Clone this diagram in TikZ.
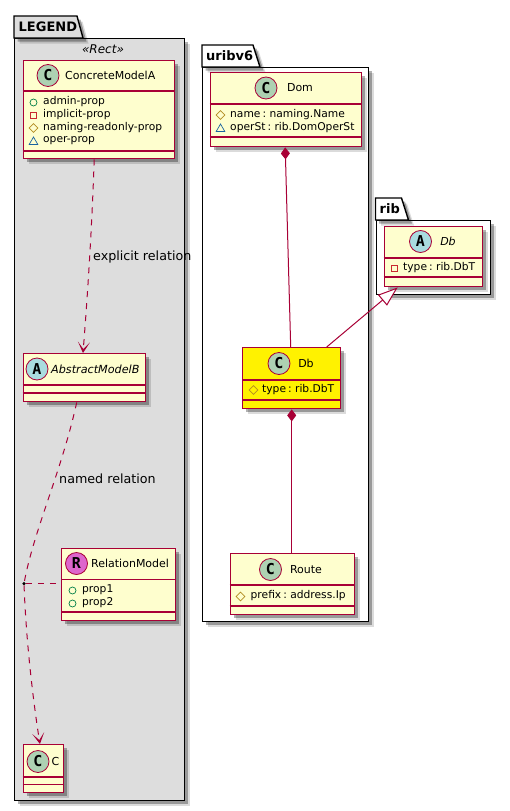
\documentclass[tikz,border=0pt]{standalone}
\usepackage{fontspec}
\setmainfont{DejaVu Sans}
\setmonofont{DejaVu Sans Mono}
\usetikzlibrary{shapes.geometric, arrows.meta, shadows}
\definecolor{umlline}{HTML}{A80036}
\definecolor{umlfill}{HTML}{FEFECE}
\definecolor{legendfill}{HTML}{DDDDDD}
\definecolor{circC}{HTML}{ADD1B2}
\definecolor{circA}{HTML}{A9DCDF}
\definecolor{circR}{HTML}{DD66CC}
\definecolor{markpub}{HTML}{038048}
\definecolor{markpriv}{HTML}{C82930}
\definecolor{markprot}{HTML}{B38D22}
\definecolor{markpack}{HTML}{1963A0}
\newcommand{\attrfont}{\fontsize{10.7}{12}\selectfont\spaceskip 0.2em\relax}

\begin{document}
\begin{tikzpicture}[
    x=1pt, y=-1pt,
    softshadow/.style={
        drop shadow={shadow xshift=5.5pt, shadow yshift=-5.5pt, fill=black, opacity=0.14},
        drop shadow={shadow xshift=3.5pt, shadow yshift=-3.5pt, fill=black, opacity=0.3}},
    pkgbox/.style={draw=black, line width=1.4pt, anchor=north west, inner sep=0pt, softshadow},
    pkgtab/.style={draw=black, line width=1.4pt, softshadow},
    pkgname/.style={font=\fontsize{13}{14}\selectfont\bfseries, anchor=west, inner sep=0pt},
    classbox/.style={draw=umlline, line width=1.4pt, fill=umlfill, anchor=north west, inner sep=0pt, softshadow},
    classdiv/.style={draw=umlline, line width=1.2pt},
    classname/.style={font=\fontsize{11}{14}\selectfont, inner sep=0pt},
    attr/.style={font=\attrfont, anchor=west, inner sep=0pt},
    badge/.style={circle, draw=umlline, line width=0.8pt, minimum size=22pt, inner sep=0pt, font=\ttfamily\bfseries\fontsize{15}{15}\selectfont},
    markpublic/.style={circle, draw=markpub, line width=0.7pt, minimum size=7pt, inner sep=0pt},
    markprivate/.style={rectangle, draw=markpriv, line width=0.7pt, minimum size=6.5pt, inner sep=0pt},
    markprotected/.style={diamond, draw=markprot, line width=0.7pt, minimum size=9pt, inner sep=0pt},
    markpackage/.style={regular polygon, regular polygon sides=3, draw=markpack, line width=0.7pt, minimum size=10pt, inner sep=0pt},
    relation/.style={draw=umlline, line width=1pt},
    dashrel/.style={relation, dash pattern=on 6pt off 6pt},
    openhead/.style={-{Stealth[length=11pt, width=12pt, inset=7pt]}},
    relname/.style={font=\fontsize{12.7}{14}\selectfont, anchor=west, inner sep=0pt}
]
\useasboundingbox (0,0) rectangle (510,811);

% Packages
\node[pkgbox, fill=legendfill, minimum width=170pt, minimum height=762pt] (legend) at (14,38) {};
\draw[pkgtab, fill=legendfill] (legend.north west) -- ++(0,-22) -- ++(63,0) -- ++(6,22) -- cycle;
\node[pkgname] (legendname) at (18.5,27) {LEGEND};
\node[font=\fontsize{12}{13}\selectfont\itshape, inner sep=0pt] (rectname) at (103,49.5) {«Rect»};

\node[pkgbox, fill=white, minimum width=166pt, minimum height=554pt] (uribv) at (202,67) {};
\draw[pkgtab, fill=white] (uribv.north west) -- ++(0,-22) -- ++(51,0) -- ++(7,22) -- cycle;
\node[pkgname] (uribvname) at (206,56) {uribv6};

\node[pkgbox, fill=white, minimum width=114pt, minimum height=74pt] (rib) at (375.5,220) {};
\draw[pkgtab, fill=white] (rib.north west) -- ++(0,-22) -- ++(26,0) -- ++(7,22) -- cycle;
\node[pkgname] (ribname) at (379.5,209) {rib};

% Legend classes
\node[classbox, minimum width=151pt, minimum height=98.5pt] (concreteA) at (22.5,59.5) {};
\draw[classdiv] (concreteA.west |- 0,91) -- (concreteA.east |- 0,91);
\draw[classdiv] (concreteA.west |- 0,151) -- (concreteA.east |- 0,151);
\node[badge, fill=circC] (concreteAbadge) at (48,75.5) {C};
\node[classname, anchor=west] (concreteAname) at (65,75.5) {ConcreteModelA};
\node[markpublic] (m1) at (33.5,102.5) {};
\node[attr] (a1) at (43,102) {admin-prop};
\node[markprivate] (m2) at (33.5,115.5) {};
\node[attr] (a2) at (43,115) {implicit-prop};
\node[markprotected] (m3) at (33.5,128) {};
\node[attr] (a3) at (43,128) {naming-readonly-prop};
\node[markpackage] (m4) at (33.5,142) {};
\node[attr] (a4) at (43,141) {oper-prop};

\node[classbox, minimum width=122pt, minimum height=48pt] (abstractB) at (22.5,353) {};
\draw[classdiv] (abstractB.west |- 0,385) -- (abstractB.east |- 0,385);
\draw[classdiv] (abstractB.west |- 0,393) -- (abstractB.east |- 0,393);
\node[badge, fill=circA] (abstractBbadge) at (37,369) {A};
\node[classname, anchor=west, font=\fontsize{11.2}{14}\selectfont\itshape] (abstractBname) at (51,369) {AbstractModelB};

\node[classbox, minimum width=114pt, minimum height=72pt] (relmodel) at (61,548) {};
\draw[classdiv] (relmodel.west |- 0,579.5) -- (relmodel.east |- 0,579.5);
\draw[classdiv] (relmodel.west |- 0,612) -- (relmodel.east |- 0,612);
\node[badge, fill=circR] (relmodelbadge) at (76.5,563.5) {R};
\node[classname, anchor=west] (relmodelname) at (91,563.5) {RelationModel};
\node[markpublic] (m5) at (72.5,590.5) {};
\node[attr] (a5) at (82,590) {prop1};
\node[markpublic] (m6) at (72.5,603.5) {};
\node[attr] (a6) at (82,603) {prop2};

\node[classbox, minimum width=40.5pt, minimum height=48pt] (cmodel) at (22.5,744) {};
\draw[classdiv] (cmodel.west |- 0,777) -- (cmodel.east |- 0,777);
\draw[classdiv] (cmodel.west |- 0,784.5) -- (cmodel.east |- 0,784.5);
\node[badge, fill=circC] (cmodelbadge) at (38,761.5) {C};
\node[classname, anchor=west] (cmodelname) at (51.5,761.5) {C};

% uribv6 classes
\node[classbox, minimum width=151pt, minimum height=74pt] (dom) at (209.5,72) {};
\draw[classdiv] (dom.west |- 0,104) -- (dom.east |- 0,104);
\draw[classdiv] (dom.west |- 0,137) -- (dom.east |- 0,137);
\node[badge, fill=circC] (dombadge) at (266,88) {C};
\node[classname] (domname) at (300,88) {Dom};
\node[markprotected] (m7) at (220.5,115) {};
\node[attr] (a7) at (230,115) {name : naming.Name};
\node[markpackage] (m8) at (220.5,129) {};
\node[attr] (a8) at (230,128) {operSt : rib.DomOperSt};

\node[classbox, fill=yellow, minimum width=98pt, minimum height=61pt] (db) at (242,347) {};
\draw[classdiv] (db.west |- 0,380) -- (db.east |- 0,380);
\draw[classdiv] (db.west |- 0,400) -- (db.east |- 0,400);
\node[badge, fill=circC] (dbbadge) at (279,363.5) {C};
\node[classname] (dbname) at (306,363.5) {Db};
\node[markprotected] (m9) at (253.5,390) {};
\node[attr] (a9) at (262,390) {type : rib.DbT};

\node[classbox, minimum width=124pt, minimum height=61pt] (route) at (229.5,553) {};
\draw[classdiv] (route.west |- 0,585) -- (route.east |- 0,585);
\draw[classdiv] (route.west |- 0,606) -- (route.east |- 0,606);
\node[badge, fill=circC] (routebadge) at (270.5,569.5) {C};
\node[classname] (routename) at (306,569.5) {Route};
\node[markprotected] (m10) at (240.5,596.5) {};
\node[attr] (a10) at (250.5,596) {prefix : address.Ip};

% rib class
\node[classbox, minimum width=98pt, minimum height=60pt] (ribdb) at (383.5,226) {};
\draw[classdiv] (ribdb.west |- 0,258) -- (ribdb.east |- 0,258);
\draw[classdiv] (ribdb.west |- 0,277) -- (ribdb.east |- 0,277);
\node[badge, fill=circA] (ribdbbadge) at (420.5,241.5) {A};
\node[classname, font=\fontsize{11}{14}\selectfont\itshape] (ribdbname) at (448,241.5) {Db};
\node[markprivate] (m11) at (394.5,268.5) {};
\node[attr] (a11) at (403,268) {type : rib.DbT};

% Relations
\node[circle, fill=black, minimum size=3.5pt, inner sep=0pt] (relpoint) at (24,583.5) {};

\draw[dashrel, openhead] ([xshift=-4.5pt]concreteA.south) .. controls (92,225) and (88,290) .. (abstractB.north -| 83,353);
\node[relname] (explicitname) at (93,257) {explicit relation};

\draw[dashrel] ([xshift=-7.5pt]abstractB.south) .. controls (62,470) and (34,530) .. (relpoint);
\node[relname] (namedname) at (59,479) {named relation};
\draw[dashrel, openhead] (relpoint) .. controls (26,640) and (33,700) .. ([xshift=-3.5pt]cmodel.north);
\draw[dashrel] (relpoint) -- (relpoint -| relmodel.west);

\draw[relation, {Diamond[length=12pt, width=9pt]}-] ([xshift=-0.5pt]dom.south) -- ([xshift=-1pt]db.north);
\draw[relation, {Diamond[length=12pt, width=9pt]}-] (db.south) -- ([xshift=-0.5pt]route.north);
\draw[relation, -{Triangle[open, fill=white, length=20pt, width=14pt]}] ([xshift=35pt]db.north) -- ([xshift=-35.5pt]ribdb.south);

\end{tikzpicture}
\end{document}
